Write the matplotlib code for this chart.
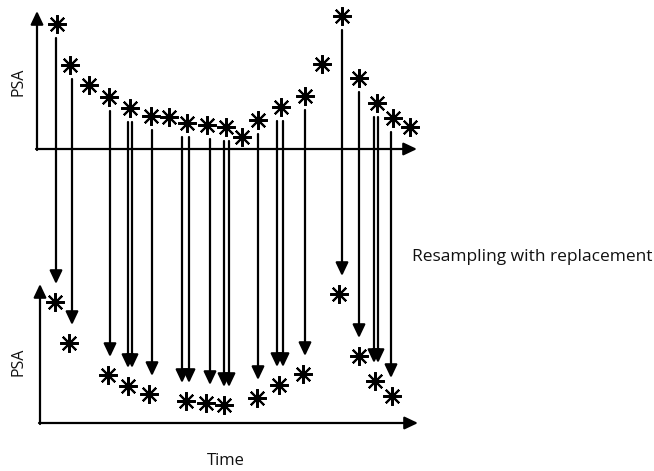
import matplotlib
matplotlib.use("Agg")
import matplotlib.pyplot as plt

# Original sample (top panel), pixel-space positions of each observation
top_x = [57, 70, 89, 109, 130, 151, 169, 187, 207, 226, 242, 258, 281, 305, 322, 342, 359, 377, 393, 410]
top_y = [24, 65, 85, 97, 108, 116, 117, 123, 125, 127, 137, 120, 107, 96, 64, 16, 78, 103, 118, 127]

# Resampling with replacement: source index of each draw, and arrow x positions
arrow_src = [0, 1, 3, 4, 4, 5, 7, 7, 8, 9, 9, 11, 12, 12, 13, 15, 16, 17, 17, 18]
arrow_x = [56, 72, 110, 128, 132, 152, 182, 189, 210, 224, 229, 258, 277, 283, 305, 342, 359, 374, 378, 391]

# Unique resampled observations (bottom panel)
bottom_src = [0, 1, 3, 4, 5, 7, 8, 9, 11, 12, 13, 15, 16, 17, 18]
bottom_x = [55, 69, 108, 128, 149, 186, 206, 224, 257, 279, 303, 339, 359, 375, 392]
shift = 278

label_y = "PSA"
label_x = "Time"
label_mid = "Resampling with replacement"

plt.rcParams['font.family'] = ['Open Sans', 'DejaVu Sans']

fig = plt.figure(figsize=(6.54, 4.71), dpi=100)
ax = fig.add_axes([0, 0, 1, 1])
ax.set_xlim(0, 654)
ax.set_ylim(471, 0)
ax.axis('off')

aprops = dict(arrowstyle='-|>,head_length=0.8,head_width=0.38', lw=1.6,
              color='black', shrinkA=0, shrinkB=0)

def arrow(x0, y0, x1, y1):
    ax.annotate('', xy=(x1, y1), xytext=(x0, y0), arrowprops=aprops)

# top axes
arrow(37, 150, 37, 11)
arrow(36, 149, 417, 149)
# bottom axes
arrow(40, 424, 40, 284)
arrow(39, 423, 418, 423)

star = (8, 2, 0)
ax.plot(top_x, top_y, linestyle='none', marker=star, markersize=13.5,
        markeredgewidth=1.5, color='black')

by = [top_y[s] + shift for s in bottom_src]
ax.plot(bottom_x, by, linestyle='none', marker=star, markersize=13.5,
        markeredgewidth=1.5, color='black')

for s, x in zip(arrow_src, arrow_x):
    arrow(x, top_y[s] + 14, x, top_y[s] + shift - 18)

ax.text(18, 82, label_y, rotation=90, ha='center', va='center', fontsize=11.5, color='#111111')
ax.text(18, 362, label_y, rotation=90, ha='center', va='center', fontsize=11.5, color='#111111')
ax.text(226, 461, label_x, ha='center', va='center', fontsize=12, color='#111111')
ax.text(412, 257, label_mid, ha='left', va='center', fontsize=12.5, color='#111111')

fig.savefig('out.png', dpi=100)
